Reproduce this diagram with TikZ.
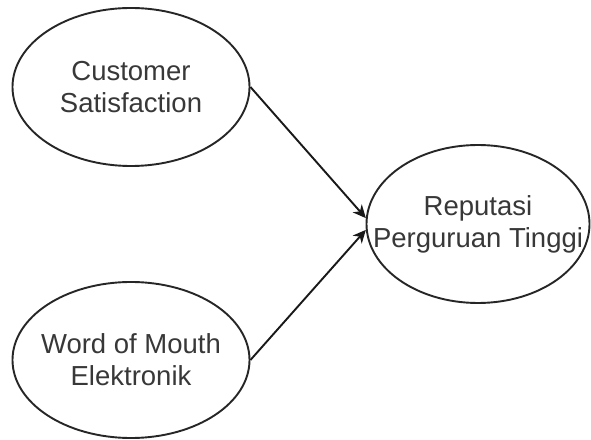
\documentclass[tikz,border=0pt]{standalone}
\usepackage{fontspec}
\setmainfont{Liberation Sans}
\usetikzlibrary{shapes.geometric,arrows.meta}
\begin{document}
\begin{tikzpicture}[x=1pt,y=1pt,
  latent/.style={draw=black!85, line width=1.9pt, ellipse, inner xsep=-40pt, inner ysep=0pt, align=center,
    text=black!78, font=\fontsize{27.5}{32}\selectfont},
  conn/.style={draw=black!90, line width=1.9pt, -{Stealth[length=13pt,width=12pt,inset=4pt]}}]
\useasboundingbox (0,0) rectangle (591,439);
\fill[white] (0,0) rectangle (591,439);
\node[latent, minimum width=237pt, minimum height=158pt] (cs) at (131,352) {Customer\\Satisfaction};
\node[latent, minimum width=237pt, minimum height=156pt] (wom) at (131,79) {Word of Mouth\\Elektronik};
\node[latent, minimum width=223pt, minimum height=158pt] (rep) at (478,215) {Reputasi\\Perguruan Tinggi};
\draw[conn] (cs.east) -- (rep.177);
\draw[conn] (wom.east) -- (rep.183);
\end{tikzpicture}
\end{document}
